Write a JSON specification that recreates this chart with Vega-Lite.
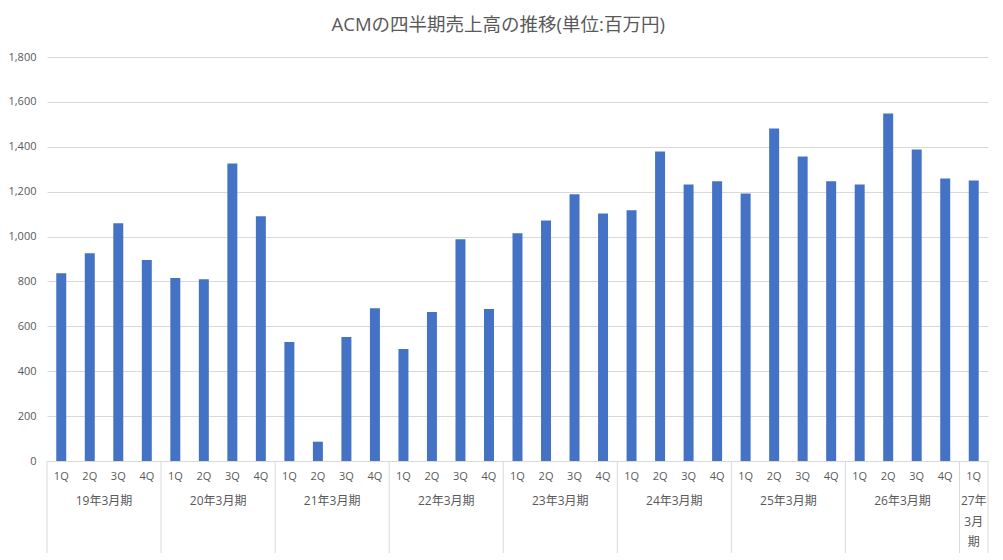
{
  "$schema": "https://vega.github.io/schema/vega-lite/v6.json",
  "autosize": {"type": "none"},
  "width": 941,
  "height": 404,
  "padding": {"left": 47, "top": 57, "right": 15, "bottom": 99},
  "background": "white",
  "config": {"view": {"stroke": null}, "font": "Open Sans, Noto Sans CJK JP"},
  "title": {
    "text": "ACMの四半期売上高の推移(単位:百万円)",
    "fontSize": 18.5,
    "fontWeight": "normal",
    "color": "#595959",
    "frame": "bounds",
    "anchor": "middle",
    "offset": 17,
    "font": "Open Sans, Noto Sans CJK JP"
  },
  "datasets": {
    "sales": [
      {"period": "19年3月期 1Q", "sales": 837},
      {"period": "19年3月期 2Q", "sales": 926},
      {"period": "19年3月期 3Q", "sales": 1059},
      {"period": "19年3月期 4Q", "sales": 895},
      {"period": "20年3月期 1Q", "sales": 815},
      {"period": "20年3月期 2Q", "sales": 810},
      {"period": "20年3月期 3Q", "sales": 1326},
      {"period": "20年3月期 4Q", "sales": 1090},
      {"period": "21年3月期 1Q", "sales": 530},
      {"period": "21年3月期 2Q", "sales": 86},
      {"period": "21年3月期 3Q", "sales": 553},
      {"period": "21年3月期 4Q", "sales": 681},
      {"period": "22年3月期 1Q", "sales": 499},
      {"period": "22年3月期 2Q", "sales": 664},
      {"period": "22年3月期 3Q", "sales": 988},
      {"period": "22年3月期 4Q", "sales": 677},
      {"period": "23年3月期 1Q", "sales": 1015},
      {"period": "23年3月期 2Q", "sales": 1072},
      {"period": "23年3月期 3Q", "sales": 1188},
      {"period": "23年3月期 4Q", "sales": 1103},
      {"period": "24年3月期 1Q", "sales": 1117},
      {"period": "24年3月期 2Q", "sales": 1379},
      {"period": "24年3月期 3Q", "sales": 1232},
      {"period": "24年3月期 4Q", "sales": 1246},
      {"period": "25年3月期 1Q", "sales": 1192},
      {"period": "25年3月期 2Q", "sales": 1481},
      {"period": "25年3月期 3Q", "sales": 1357},
      {"period": "25年3月期 4Q", "sales": 1246},
      {"period": "26年3月期 1Q", "sales": 1232},
      {"period": "26年3月期 2Q", "sales": 1548},
      {"period": "26年3月期 3Q", "sales": 1388},
      {"period": "26年3月期 4Q", "sales": 1259},
      {"period": "27年3月期 1Q", "sales": 1250}
    ],
    "groups": [
      {"fy": "19年3月期", "first": "19年3月期 1Q", "anchor": "19年3月期 2Q"},
      {"fy": "20年3月期", "first": "20年3月期 1Q", "anchor": "20年3月期 2Q"},
      {"fy": "21年3月期", "first": "21年3月期 1Q", "anchor": "21年3月期 2Q"},
      {"fy": "22年3月期", "first": "22年3月期 1Q", "anchor": "22年3月期 2Q"},
      {"fy": "23年3月期", "first": "23年3月期 1Q", "anchor": "23年3月期 2Q"},
      {"fy": "24年3月期", "first": "24年3月期 1Q", "anchor": "24年3月期 2Q"},
      {"fy": "25年3月期", "first": "25年3月期 1Q", "anchor": "25年3月期 2Q"},
      {"fy": "26年3月期", "first": "26年3月期 1Q", "anchor": "26年3月期 2Q"},
      {"fy": "27年3月期", "first": "27年3月期 1Q", "anchor": "27年3月期 1Q"}
    ],
    "lastGroup": [
      {"fy": "27年3月期", "period": "27年3月期 1Q"}
    ]
  },
  "layer": [
    {
      "data": {"name": "sales"},
      "mark": {"type": "bar", "width": {"band": 0.35}, "color": "#4472c4"},
      "encoding": {
        "x": {
          "field": "period",
          "type": "ordinal",
          "sort": "ascending",
          "scale": {"paddingInner": 0, "paddingOuter": 0},
          "axis": {
            "title": null,
            "labelExpr": "split(datum.label, ' ')[1]",
            "labelAngle": 0,
            "ticks": false,
            "grid": false,
            "domainColor": "#d9d9d9",
            "labelColor": "#595959",
            "labelFontSize": 11,
            "labelPadding": 9
          }
        },
        "y": {
          "field": "sales",
          "type": "quantitative",
          "scale": {"domain": [0, 1800], "nice": false},
          "axis": {
            "title": null,
            "values": [0, 200, 400, 600, 800, 1000, 1200, 1400, 1600, 1800],
            "labelExpr": "format(datum.value, ',.0f')",
            "grid": true,
            "gridColor": "#d9d9d9",
            "domain": false,
            "ticks": false,
            "labelColor": "#595959",
            "labelFontSize": 11,
            "labelPadding": 11
          }
        }
      }
    },
    {
      "data": {"name": "groups"},
      "mark": {"type": "rule", "color": "#d9d9d9", "strokeWidth": 1},
      "encoding": {
        "x": {"field": "first", "type": "ordinal", "sort": "ascending", "bandPosition": 0},
        "y": {"datum": 0},
        "y2": {"datum": -410}
      }
    },
    {
      "data": {"name": "lastGroup"},
      "mark": {"type": "rule", "color": "#d9d9d9", "strokeWidth": 1},
      "encoding": {
        "x": {"field": "period", "type": "ordinal", "sort": "ascending", "bandPosition": 1},
        "y": {"datum": 0},
        "y2": {"datum": -410}
      }
    },
    {
      "data": {"name": "groups"},
      "transform": [{"filter": "datum.fy != '27年3月期'"}],
      "mark": {"type": "text", "color": "#595959", "fontSize": 12, "baseline": "middle", "align": "center"},
      "encoding": {
        "x": {"field": "anchor", "type": "ordinal", "sort": "ascending", "bandPosition": 1},
        "y": {"datum": -179},
        "text": {"field": "fy"}
      }
    },
    {
      "data": {"name": "lastGroup"},
      "mark": {"type": "text", "color": "#595959", "fontSize": 12, "baseline": "middle", "align": "center", "lineHeight": 20.5},
      "encoding": {
        "x": {"field": "period", "type": "ordinal", "sort": "ascending", "bandPosition": 0.5},
        "y": {"datum": -179},
        "text": {"value": ["27年", "3月", "期"]}
      }
    }
  ]
}
